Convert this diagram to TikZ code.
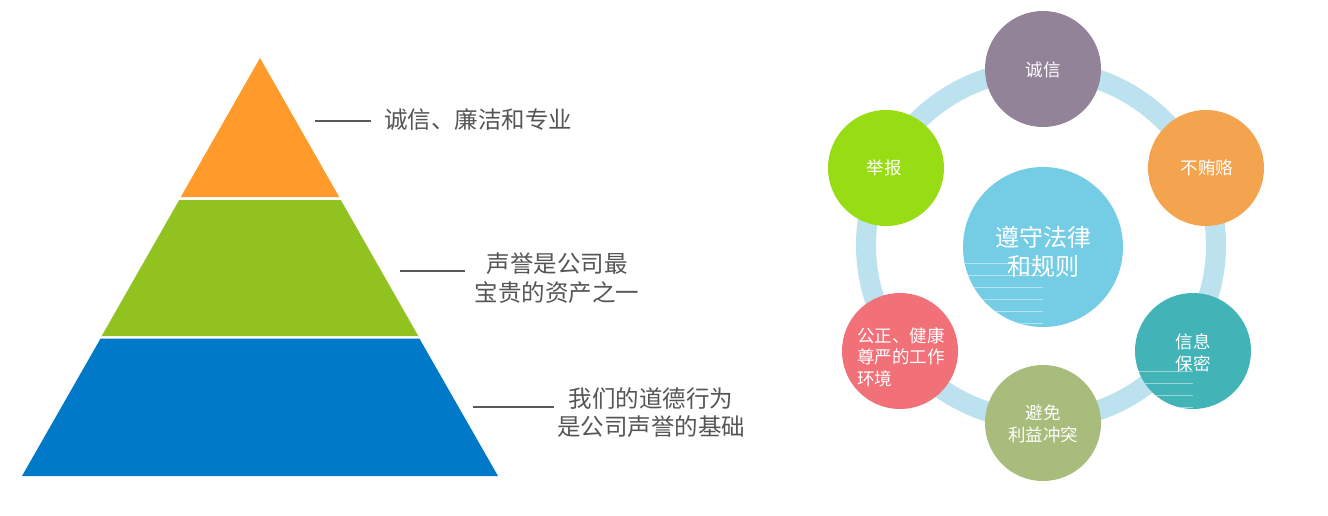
\documentclass[tikz,border=0pt]{standalone}
\usepackage{fontspec}
\setmainfont{Noto Sans CJK SC}
\usetikzlibrary{calc}
\definecolor{pyorange}{HTML}{FF9A2B}
\definecolor{pygreen}{HTML}{92C220}
\definecolor{pyblue}{HTML}{0079C8}
\definecolor{lblgray}{HTML}{555555}
\definecolor{linegray}{HTML}{5A5A5A}
\definecolor{ringblue}{HTML}{BDE2EF}
\definecolor{cblue}{HTML}{74CCE5}
\definecolor{cpurple}{HTML}{938398}
\definecolor{corange}{HTML}{F4A44E}
\definecolor{cteal}{HTML}{42B3B6}
\definecolor{colive}{HTML}{A8BC7B}
\definecolor{cpink}{HTML}{F27078}
\definecolor{clime}{HTML}{98DC13}
\tikzset{
  lbl/.style={inner sep=0pt, text=lblgray, font=\fontsize{23.5}{28.5}\selectfont, align=center},
  leader/.style={draw=linegray, line width=2pt},
  smallc/.style={circle, minimum size=116pt, inner sep=0pt},
  ctext/.style={inner sep=0pt, text=white, font=\fontsize{17.5}{21.7}\selectfont, align=center},
  bigtext/.style={inner sep=0pt, text=white, font=\fontsize{24}{29}\selectfont, align=center},
  faint/.style={draw=white, draw opacity=0.45, line width=0.8pt},
}
\begin{document}
\begin{tikzpicture}[x=1pt,y=-1pt]
\useasboundingbox (0,0) rectangle (1328,516);
\fill[white] (0,0) rectangle (1328,516);
% pyramid
\fill[pyorange] (260,58) -- (339.2,197) -- (180.8,197) -- cycle;
\fill[pygreen] (179.2,200) -- (340.8,200) -- (418.3,336) -- (101.7,336) -- cycle;
\fill[pyblue] (100.6,338.5) -- (419.4,338.5) -- (498,476) -- (22,476) -- cycle;
% labels
\node[lbl, anchor=west] (l1) at (384,120) {诚信、廉洁和专业};
\node[lbl] (l2) at (557,278) {声誉是公司最\\宝贵的资产之一};
\node[lbl] (l3) at (651,412.5) {我们的道德行为\\是公司声誉的基础};
\coordinate (a1) at (315,121); \coordinate (b1) at (371,121);
\coordinate (a2) at (400,271); \coordinate (b2) at (465,271);
\coordinate (a3) at (473,406.5); \coordinate (b3) at (554,406.5);
\draw[leader] (a1) -- (b1);
\draw[leader] (a2) -- (b2);
\draw[leader] (a3) -- (b3);
% ring
\draw[ringblue, line width=20pt] (1041,245) circle (175);
% center circle
\node[circle, minimum size=160pt, inner sep=0pt, fill=cblue] (c0) at (1043,247) {};
\begin{scope}
\clip (1043,247) circle (80);
\foreach \yy in {263.3,275.3,287.3,299.3,311.3,323.3}
  \draw[faint] (950,\yy) -- (1043,\yy);
\end{scope}
\node[bigtext] (t0) at ($(c0)+(0,4.5)$) {遵守法律\\和规则};
% outer circles
\node[smallc, fill=cpurple] (c1) at (1043,69) {};
\node[smallc, fill=corange] (c2) at (1206,168) {};
\node[smallc, fill=cteal] (c3) at (1193,351) {};
\node[smallc, fill=colive] (c4) at (1043,423) {};
\node[smallc, fill=cpink] (c5) at (900,351) {};
\node[smallc, fill=clime] (c6) at (886,168) {};
\begin{scope}
\clip (1193,351) circle (58);
\foreach \yy in {371.3,383.3,395.3,407.3}
  \draw[faint] (1130,\yy) -- (1193,\yy);
\end{scope}
\node[ctext] (t1) at ($(c1)+(0,1)$) {诚信};
\node[ctext] (t2) at ($(c2)+(1,0)$) {不贿赂};
\node[ctext] (t3) at ($(c3)+(0,1.5)$) {信息\\保密};
\node[ctext] (t4) at ($(c4)+(0,0.5)$) {避免\\利益冲突};
\node[ctext, align=left] (t5) at ($(c5)+(1,6)$) {公正、健康\\尊严的工作\\环境};
\node[ctext] (t6) at ($(c6)+(-2,0)$) {举报};
\end{tikzpicture}
\end{document}
